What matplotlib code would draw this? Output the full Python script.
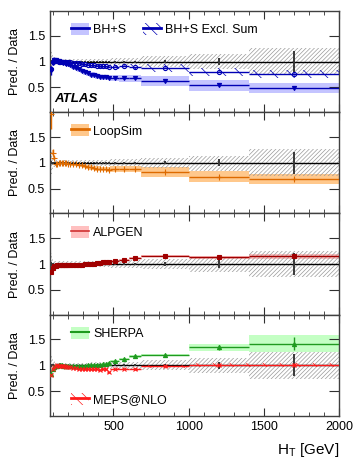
import matplotlib
matplotlib.use("Agg")
import matplotlib.pyplot as plt
from matplotlib.patches import Patch
from matplotlib.ticker import MultipleLocator, FixedLocator, FormatStrFormatter

plt.rcParams['font.family'] = ['Liberation Sans', 'DejaVu Sans']
plt.rcParams['hatch.linewidth'] = 0.5

# bin edges in H_T [GeV]
edges = [80, 90, 100, 110, 120, 130, 140, 150, 160, 170, 180, 190, 200,
         220, 240, 260, 280, 300, 320, 340, 360, 380, 400, 420, 440, 460, 480,
         540, 600, 680, 1000, 1400, 2000]

# data: total uncertainty band (ratio) and stat error
data_lo = [0.78, 0.88, 0.92, 0.94, 0.95, 0.95, 0.95, 0.95, 0.95, 0.95, 0.95, 0.95,
           0.95, 0.95, 0.95, 0.95, 0.95, 0.95, 0.95, 0.94, 0.94, 0.94, 0.94, 0.94,
           0.94, 0.94, 0.93, 0.93, 0.93, 0.90, 0.85, 0.74]
data_hi = [1.22, 1.12, 1.08, 1.06, 1.05, 1.05, 1.05, 1.05, 1.05, 1.05, 1.05, 1.05,
           1.05, 1.05, 1.05, 1.05, 1.05, 1.05, 1.05, 1.06, 1.06, 1.06, 1.06, 1.06,
           1.06, 1.06, 1.07, 1.07, 1.07, 1.10, 1.14, 1.26]
data_err = [0.03, 0.02, 0.01, 0.01, 0.01, 0.01, 0.01, 0.01, 0.01, 0.01, 0.01, 0.01,
            0.01, 0.01, 0.01, 0.01, 0.01, 0.01, 0.01, 0.01, 0.01, 0.015, 0.015, 0.015,
            0.015, 0.015, 0.02, 0.02, 0.02, 0.03, 0.07, 0.21]

bhs = [0.83, 0.98, 1.03, 1.03, 1.02, 1.01, 1.00, 0.99, 0.98, 0.97, 0.96, 0.95,
       0.93, 0.90, 0.88, 0.85, 0.82, 0.80, 0.77, 0.75, 0.74, 0.72, 0.71, 0.70,
       0.70, 0.69, 0.68, 0.68, 0.68, 0.62, 0.54, 0.49]
bhs_band = [0.10, 0.06, 0.05, 0.04, 0.04, 0.04, 0.04, 0.04, 0.04, 0.04, 0.04, 0.04,
            0.04, 0.05, 0.05, 0.05, 0.05, 0.05, 0.05, 0.05, 0.05, 0.05, 0.05, 0.05,
            0.05, 0.05, 0.06, 0.07, 0.07, 0.10, 0.10, 0.10]
bhs_err = [0.08, 0.03, 0.02, 0.01, 0.01, 0.01, 0.01, 0.01, 0.01, 0.01, 0.01, 0.01,
           0.01, 0.01, 0.01, 0.01, 0.01, 0.01, 0.01, 0.01, 0.01, 0.01, 0.01, 0.01,
           0.01, 0.01, 0.01, 0.01, 0.01, 0.01, 0.01, 0.01]

excl = [0.85, 1.00, 1.03, 1.02, 1.01, 1.00, 1.00, 1.00, 1.00, 0.99, 0.99, 0.99,
        0.99, 0.98, 0.98, 0.97, 0.96, 0.95, 0.94, 0.93, 0.93, 0.92, 0.92, 0.91,
        0.91, 0.90, 0.90, 0.92, 0.89, 0.88, 0.80, 0.76]
excl_band = [0.08, 0.04, 0.03, 0.03, 0.03, 0.03, 0.03, 0.03, 0.03, 0.03, 0.03, 0.03,
             0.03, 0.03, 0.03, 0.03, 0.04, 0.04, 0.04, 0.04, 0.04, 0.04, 0.04, 0.04,
             0.04, 0.04, 0.05, 0.05, 0.06, 0.08, 0.08, 0.08]
excl_err = [0.06, 0.03, 0.02, 0.01, 0.01, 0.01, 0.01, 0.01, 0.01, 0.01, 0.01, 0.01,
            0.01, 0.01, 0.01, 0.01, 0.01, 0.01, 0.01, 0.01, 0.01, 0.01, 0.01, 0.01,
            0.01, 0.01, 0.01, 0.01, 0.01, 0.01, 0.01, 0.02]

loopsim = [1.95, 1.20, 1.10, 0.97, 0.98, 0.99, 1.00, 1.00, 1.00, 0.99, 0.99, 0.98,
           0.98, 0.97, 0.97, 0.96, 0.95, 0.94, 0.92, 0.91, 0.90, 0.89, 0.89, 0.88,
           0.88, 0.87, 0.88, 0.88, 0.88, 0.825, 0.73, 0.69]
loopsim_band = [0.10, 0.05, 0.04, 0.03, 0.03, 0.03, 0.03, 0.03, 0.03, 0.03, 0.03, 0.03,
                0.03, 0.03, 0.03, 0.03, 0.04, 0.04, 0.04, 0.04, 0.04, 0.04, 0.04, 0.04,
                0.04, 0.04, 0.05, 0.05, 0.05, 0.10, 0.11, 0.10]
loopsim_err = [0.30, 0.06, 0.03, 0.01, 0.01, 0.01, 0.01, 0.01, 0.01, 0.01, 0.01, 0.01,
               0.01, 0.01, 0.01, 0.01, 0.01, 0.01, 0.01, 0.01, 0.01, 0.01, 0.01, 0.01,
               0.01, 0.01, 0.01, 0.01, 0.01, 0.01, 0.02, 0.02]

alpgen = [0.85, 0.93, 0.96, 0.97, 0.98, 0.98, 0.98, 0.98, 0.98, 0.98, 0.98, 0.98,
          0.99, 0.99, 0.99, 0.99, 0.99, 1.00, 1.00, 1.00, 1.01, 1.02, 1.02, 1.03,
          1.03, 1.04, 1.065, 1.08, 1.11, 1.15, 1.13, 1.15]
alpgen_band = [0.03, 0.02, 0.02, 0.02, 0.02, 0.02, 0.02, 0.02, 0.02, 0.02, 0.02, 0.02,
               0.02, 0.02, 0.02, 0.02, 0.02, 0.02, 0.02, 0.02, 0.02, 0.02, 0.02, 0.02,
               0.02, 0.02, 0.02, 0.02, 0.02, 0.02, 0.03, 0.05]
alpgen_err = [0.03, 0.02, 0.01, 0.01, 0.01, 0.01, 0.01, 0.01, 0.01, 0.01, 0.01, 0.01,
              0.01, 0.01, 0.01, 0.01, 0.01, 0.01, 0.01, 0.01, 0.01, 0.01, 0.01, 0.01,
              0.01, 0.01, 0.01, 0.01, 0.01, 0.01, 0.02, 0.03]

sherpa = [0.84, 0.92, 0.96, 0.98, 0.99, 1.00, 1.00, 1.00, 0.99, 0.99, 0.99, 0.99,
          0.99, 0.99, 0.99, 0.99, 0.99, 0.99, 1.00, 1.00, 1.00, 1.01, 1.01, 1.02,
          1.02, 1.04, 1.09, 1.13, 1.17, 1.20, 1.35, 1.42]
sherpa_band = [0.03, 0.02, 0.02, 0.02, 0.02, 0.02, 0.02, 0.02, 0.02, 0.02, 0.02, 0.02,
               0.02, 0.02, 0.02, 0.02, 0.02, 0.02, 0.02, 0.02, 0.02, 0.02, 0.02, 0.02,
               0.02, 0.02, 0.02, 0.02, 0.02, 0.02, 0.07, 0.16]
sherpa_err = [0.03, 0.02, 0.01, 0.01, 0.01, 0.01, 0.01, 0.01, 0.01, 0.01, 0.01, 0.01,
              0.01, 0.01, 0.01, 0.01, 0.01, 0.01, 0.01, 0.01, 0.01, 0.01, 0.01, 0.01,
              0.01, 0.01, 0.01, 0.02, 0.02, 0.02, 0.05, 0.13]

meps = [0.82, 0.92, 0.97, 0.99, 1.00, 0.99, 0.99, 0.98, 0.98, 0.98, 0.97, 0.97,
        0.96, 0.95, 0.94, 0.93, 0.93, 0.92, 0.93, 0.92, 0.92, 0.93, 0.91, 0.93,
        0.92, 0.86, 0.92, 0.93, 0.92, 0.98, 1.00, 1.01]
meps_band = [0.05, 0.04, 0.03, 0.03, 0.03, 0.03, 0.03, 0.03, 0.03, 0.03, 0.03, 0.03,
             0.03, 0.03, 0.03, 0.03, 0.03, 0.03, 0.03, 0.03, 0.03, 0.03, 0.03, 0.03,
             0.03, 0.03, 0.03, 0.03, 0.03, 0.03, 0.04, 0.04]
meps_err = [0.03, 0.02, 0.01, 0.01, 0.01, 0.01, 0.01, 0.01, 0.01, 0.01, 0.01, 0.01,
            0.01, 0.01, 0.01, 0.01, 0.01, 0.01, 0.01, 0.01, 0.01, 0.01, 0.01, 0.01,
            0.01, 0.01, 0.01, 0.01, 0.01, 0.01, 0.02, 0.03]

centers = [(a + b) / 2 for a, b in zip(edges[:-1], edges[1:])]
halfw = [(b - a) / 2 for a, b in zip(edges[:-1], edges[1:])]


def step_band(ax, vals, half, **kw):
    lo = [v - h for v, h in zip(vals, half)]
    hi = [v + h for v, h in zip(vals, half)]
    return ax.fill_between(edges, lo + [lo[-1]], hi + [hi[-1]], step='post', linewidth=0, **kw)


def draw_model(ax, vals, half, err, color, band, marker, ms, mfc=None, hatch=None, z=3):
    if hatch:
        step_band(ax, vals, half, facecolor='none', edgecolor=band, hatch=hatch, zorder=z)
    else:
        step_band(ax, vals, half, facecolor=band, zorder=1)
    ax.errorbar(centers, vals, xerr=halfw, yerr=err, fmt=marker, color=color, ms=ms,
                mfc=mfc if mfc else color, mew=0.8, elinewidth=1.0, capsize=0, zorder=z + 1)


def draw_data(ax):
    ax.fill_between(edges, data_lo + [data_lo[-1]], data_hi + [data_hi[-1]], step='post',
                    facecolor='none', edgecolor='#9a9a9a', hatch='////////', linewidth=0, zorder=2)
    ax.axhline(1.0, color='black', lw=1.0, zorder=2.5)
    ax.errorbar(centers, [1.0] * len(centers), yerr=data_err, fmt='none', ecolor='#383838',
                elinewidth=1.4, capsize=0, zorder=2.5)


def legend_at(ax, handles, labels, y, loc='upper left', **kw):
    return ax.legend(handles, labels, loc=loc, frameon=False, fontsize=9,
                     handlelength=1.45, handleheight=1.1, handletextpad=0.35,
                     borderaxespad=0.0, bbox_to_anchor=(0.055, y), **kw)


fig = plt.figure(figsize=(3.57, 4.59), dpi=100)
gs = fig.add_gridspec(4, 1, left=0.14, right=0.95, top=0.976, bottom=0.094, hspace=0)
axes = [fig.add_subplot(gs[i]) for i in range(4)]

blue = '#0000b4'
orange = '#dd6a00'
dred = '#a00000'
green = '#1f9a1f'
red = '#ff1a1a'

# panel 1
ax = axes[0]
draw_model(ax, bhs, bhs_band, bhs_err, blue, '#c4c4ff', 'v', 3)
draw_model(ax, excl, excl_band, excl_err, blue, blue, 'o', 3, mfc='none', hatch='\\\\', z=3)
draw_data(ax)
h1 = (Patch(facecolor='#c4c4ff', linewidth=0), plt.Line2D([], [], color=blue, lw=2))
h2 = (Patch(facecolor='none', edgecolor=blue, hatch='\\\\\\', linewidth=0),
      plt.Line2D([], [], color=blue, lw=2))
legend_at(ax, [h1, h2], ['BH+S', 'BH+S Excl. Sum'], 0.93, ncol=2, columnspacing=1.3)
ax.text(0.015, 0.10, 'ATLAS', transform=ax.transAxes, fontsize=9.5,
        fontweight='bold', fontstyle='italic')

# panel 2
ax = axes[1]
draw_model(ax, loopsim, loopsim_band, loopsim_err, orange, '#ffc88c', '+', 5)
draw_data(ax)
h = (Patch(facecolor='#ffc88c', linewidth=0), plt.Line2D([], [], color=orange, lw=2))
legend_at(ax, [h], ['LoopSim'], 0.93)

# panel 3
ax = axes[2]
draw_model(ax, alpgen, alpgen_band, alpgen_err, dred, '#ffc0c0', 's', 3.5)
draw_data(ax)
h = (Patch(facecolor='#ffc0c0', linewidth=0), plt.Line2D([], [], color='#d03030', lw=1.2))
legend_at(ax, [h], ['ALPGEN'], 0.93)

# panel 4
ax = axes[3]
draw_model(ax, sherpa, sherpa_band, sherpa_err, green, '#c4ffc4', '^', 3)
draw_model(ax, meps, meps_band, meps_err, red, red, 'x', 3, hatch='\\\\', z=3)
draw_data(ax)
hs = (Patch(facecolor='#c4ffc4', linewidth=0), plt.Line2D([], [], color=green, lw=1.5))
hm = (Patch(facecolor='none', edgecolor=red, hatch='\\\\\\', linewidth=0),
      plt.Line2D([], [], color=red, lw=2))
leg = legend_at(ax, [hs], ['SHERPA'], 0.93)
ax.add_artist(leg)
legend_at(ax, [hm], ['MEPS@NLO'], 0.05, loc='lower left')

for i, ax in enumerate(axes):
    ax.set_xlim(78, 2000)
    ax.set_ylim(0.02, 1.98)
    ax.yaxis.set_major_locator(FixedLocator([0.5, 1.0, 1.5]))
    ax.yaxis.set_major_formatter(FormatStrFormatter('%g'))
    ax.xaxis.set_major_locator(MultipleLocator(500))
    ax.xaxis.set_minor_locator(MultipleLocator(100))
    ax.tick_params(which='both', direction='in', top=True, right=True, labelsize=9,
                   color='#303030')
    ax.tick_params(which='major', axis='y', length=7)
    ax.tick_params(which='major', axis='x', length=6)
    ax.tick_params(which='minor', length=3)
    ax.set_ylabel('Pred. / Data', fontsize=9, labelpad=5)
    for s in ax.spines.values():
        s.set_color('#404040')
        s.set_linewidth(1.0)
    if i < 3:
        ax.tick_params(labelbottom=False)

axes[3].set_xlabel('H$_\\mathregular{T}$ [GeV]', fontsize=11, loc='right', labelpad=6)

fig.savefig('out.png', dpi=100)
